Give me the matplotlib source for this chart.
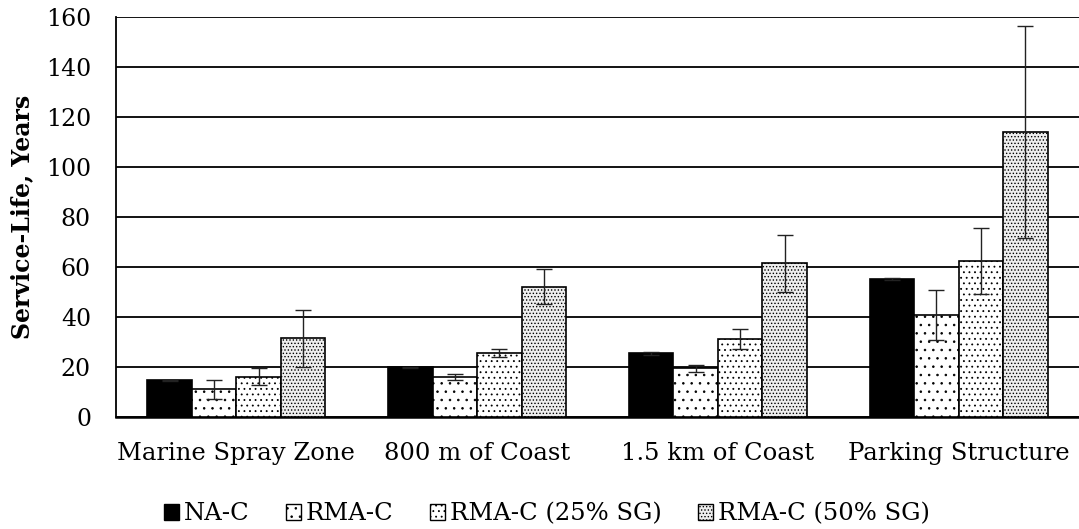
import matplotlib
matplotlib.use("Agg")
import matplotlib.pyplot as plt
import numpy as np
from matplotlib.patches import Patch

categories = ["Marine Spray Zone", "800 m of Coast", "1.5 km of Coast", "Parking Structure"]
series = ["NA-C", "RMA-C", "RMA-C (25% SG)", "RMA-C (50% SG)"]
na_c = [14.7, 19.9, 25.5, 55.2]
na_c_err = [0.3, 0.3, 0.5, 0.5]
rma_c = [11.1, 16.1, 19.6, 40.8]
rma_c_err = [3.7, 1.1, 1.4, 10.1]
rma_25 = [16.2, 25.5, 31.3, 62.4]
rma_25_err = [3.3, 1.6, 4.1, 13.3]
rma_50 = [31.5, 52.1, 61.5, 114.1]
rma_50_err = [11.5, 7.0, 11.3, 42.5]

values = [na_c, rma_c, rma_25, rma_50]
errors = [na_c_err, rma_c_err, rma_25_err, rma_50_err]
faces = ["black", "white", "white", "#eeeeee"]
hatches = [None, "..", "...", "....."]

plt.rcParams['font.family'] = ['DejaVu Serif']
plt.rcParams['hatch.linewidth'] = 0.6

fig = plt.figure(figsize=(10.79, 5.29), dpi=100)
ax = fig.add_axes([116/1079, 1-417/529, 963/1079, 400/529])

x = np.arange(len(categories))
w = 0.185
for i, (vals, errs) in enumerate(zip(values, errors)):
    pos = x + (i - 1.5) * w
    ax.bar(pos, vals, width=w, color=faces[i], edgecolor="black", linewidth=1.2,
           hatch=hatches[i], zorder=3)
    ax.errorbar(pos, vals, yerr=errs, fmt="none", ecolor="#222222", elinewidth=1.0,
                capsize=6, capthick=1.0, zorder=4)

ax.set_xlim(-0.5, 3.5)
ax.set_ylim(0, 160)
ax.set_yticks(np.arange(0, 161, 20))
ax.set_xticks(x)
ax.set_xticklabels(categories, fontsize=17.5)
ax.tick_params(axis="y", labelsize=17, length=0, pad=18)
ax.tick_params(axis="x", length=0, pad=18)
ax.yaxis.grid(True, color="black", linewidth=1.3, zorder=0)
ax.set_axisbelow(True)
for s in ["top", "right"]:
    ax.spines[s].set_visible(False)
ax.spines["left"].set_linewidth(1.3)
ax.spines["bottom"].set_linewidth(1.8)
ax.set_ylabel("Service-Life, Years", fontsize=17, fontweight="bold", labelpad=8)

handles = [Patch(facecolor=faces[i], edgecolor="black", hatch=hatches[i], label=series[i])
           for i in range(4)]
fig.legend(handles=handles, loc="center", bbox_to_anchor=(547/1079, 1-514/529), ncol=4,
           frameon=False, fontsize=17.5, handlelength=0.62, handleheight=0.62,
           handletextpad=0.2, columnspacing=1.5, borderpad=0)

fig.savefig("out.png", dpi=100)
